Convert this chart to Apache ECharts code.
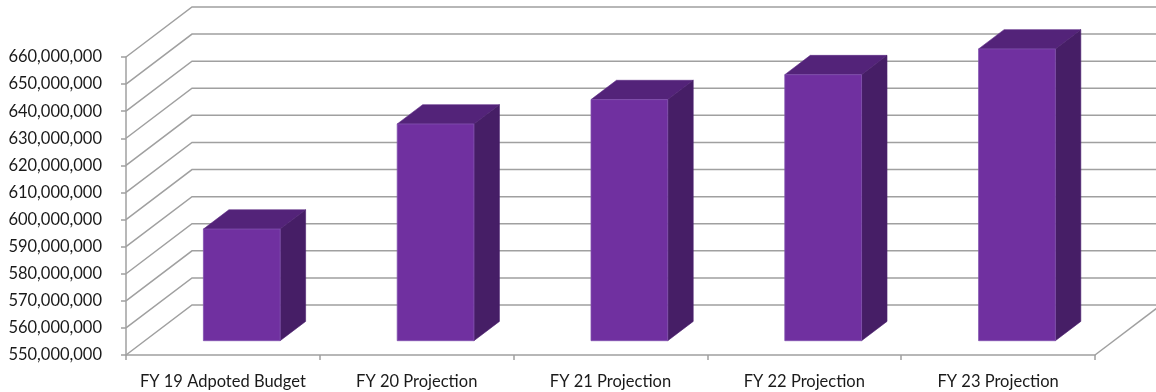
<!DOCTYPE html>
<html>
<head>
<meta charset="utf-8">
<title>Budget projections</title>
<script src="https://cdn.jsdelivr.net/npm/echarts@6/dist/echarts.min.js"></script>
<style>
  html, body { margin: 0; padding: 0; background: #ffffff; }
  #chart { width: 1156px; height: 392px; }
</style>
</head>
<body>
<div id="chart"></div>
<script>
// Fiscal-year categories and budget amounts
const categories = ['FY 19 Adpoted Budget', 'FY 20 Projection', 'FY 21 Projection', 'FY 22 Projection', 'FY 23 Projection'];
const budgetValues = [591200000, 630000000, 639000000, 648200000, 657700000];

// Value-axis ticks (also the gridlines on the back wall and side wall)
const tickValues = [550000000, 560000000, 570000000, 580000000, 590000000, 600000000,
                    610000000, 620000000, 630000000, 640000000, 650000000, 660000000];

// Oblique 3D projection: full depth of the plot box in pixels
const DEPTH_X = 66;
const DEPTH_Y = 50;
// Bars occupy this slice of the depth (0 = front, 1 = back wall)
const BAR_FRONT = 0.286;
const BAR_BACK = 0.672;
const BAR_WIDTH_RATIO = 0.396;

const GRID_COLOR = '#a0a0a0';
const TEXT_COLOR = '#1a1a1a';
const FONT = 'Lato';

const yMin = tickValues[0];
const yMax = tickValues[tickValues.length - 1];
const yStep = tickValues[1] - tickValues[0];

function withCommas(v) {
  return String(Math.round(v)).replace(/\B(?=(\d{3})+(?!\d))/g, ',');
}

const chart = echarts.init(document.getElementById('chart'), null, { renderer: 'canvas' });

// Walls and floor: each tick gives a diagonal on the side wall and a line across the back wall
function renderGridline(params, api) {
  const cs = params.coordSys;
  const v = api.value(1);
  const y = api.coord([0, v])[1];
  const xl = cs.x;
  const xr = cs.x + cs.width;
  const children = [{
    type: 'polyline',
    shape: { points: [[xl, y], [xl + DEPTH_X, y - DEPTH_Y], [xr + DEPTH_X, y - DEPTH_Y]] },
    style: { stroke: GRID_COLOR, lineWidth: 1.5, fill: null }
  }];
  if (v === yMin) {
    // right edge of the floor
    children.push({
      type: 'line',
      shape: { x1: xr, y1: y, x2: xr + DEPTH_X, y2: y - DEPTH_Y },
      style: { stroke: GRID_COLOR, lineWidth: 1.5 }
    });
  }
  return { type: 'group', children: children };
}

// 3D column: front face, top face and right side face
function renderBar(params, api) {
  const idx = api.value(0);
  const val = api.value(1);
  const top = api.coord([idx, val]);
  const base = api.coord([idx, yMin]);
  const bw = api.size([1, 0])[0] * BAR_WIDTH_RATIO;
  const ox = BAR_FRONT * DEPTH_X;
  const oy = -BAR_FRONT * DEPTH_Y;
  const dx = (BAR_BACK - BAR_FRONT) * DEPTH_X;
  const dy = -(BAR_BACK - BAR_FRONT) * DEPTH_Y;
  const x0 = top[0] - bw / 2 + ox;
  const x1 = top[0] + bw / 2 + ox;
  const yT = top[1] + oy;
  const yB = base[1] + oy;
  return {
    type: 'group',
    children: [
      {
        type: 'polygon',
        shape: { points: [[x0, yT], [x1, yT], [x1 + dx, yT + dy], [x0 + dx, yT + dy]] },
        style: { fill: '#532379', stroke: '#5c2a85', lineWidth: 0.6 }
      },
      {
        type: 'polygon',
        shape: { points: [[x1, yT], [x1 + dx, yT + dy], [x1 + dx, yB + dy], [x1, yB]] },
        style: { fill: '#461e66', stroke: '#4d2270', lineWidth: 0.6 }
      },
      {
        type: 'rect',
        shape: { x: x0, y: yT, width: x1 - x0, height: yB - yT },
        style: { fill: '#7030a0', stroke: '#8050ad', lineWidth: 0.8 }
      }
    ]
  };
}

const option = {
  animation: false,
  backgroundColor: '#ffffff',
  grid: { left: 126, right: 61, top: 57, bottom: 37, containLabel: false },
  xAxis: {
    type: 'category',
    data: categories,
    boundaryGap: true,
    axisLine: { show: true, lineStyle: { color: GRID_COLOR, width: 1.5 } },
    axisTick: { show: true, length: 5, alignWithLabel: false, lineStyle: { color: GRID_COLOR, width: 1.5 } },
    axisLabel: { interval: 0, margin: 18, color: TEXT_COLOR, fontFamily: FONT, fontSize: 16.5 },
    splitLine: { show: false }
  },
  yAxis: {
    type: 'value',
    min: yMin,
    max: yMax,
    interval: yStep,
    axisLine: { show: true, lineStyle: { color: GRID_COLOR, width: 1.5 } },
    axisTick: { show: true, length: 5, lineStyle: { color: GRID_COLOR, width: 1.5 } },
    axisLabel: { margin: 24, color: TEXT_COLOR, fontFamily: FONT, fontSize: 16.5, formatter: withCommas },
    splitLine: { show: false }
  },
  series: [
    {
      name: 'walls',
      type: 'custom',
      clip: false,
      silent: true,
      z: 1,
      renderItem: renderGridline,
      data: tickValues.map(function (v) { return [0, v]; })
    },
    {
      name: 'Budget',
      type: 'custom',
      clip: false,
      z: 3,
      renderItem: renderBar,
      data: budgetValues.map(function (v, i) { return [i, v]; })
    }
  ]
};

chart.setOption(option);
</script>
</body>
</html>
